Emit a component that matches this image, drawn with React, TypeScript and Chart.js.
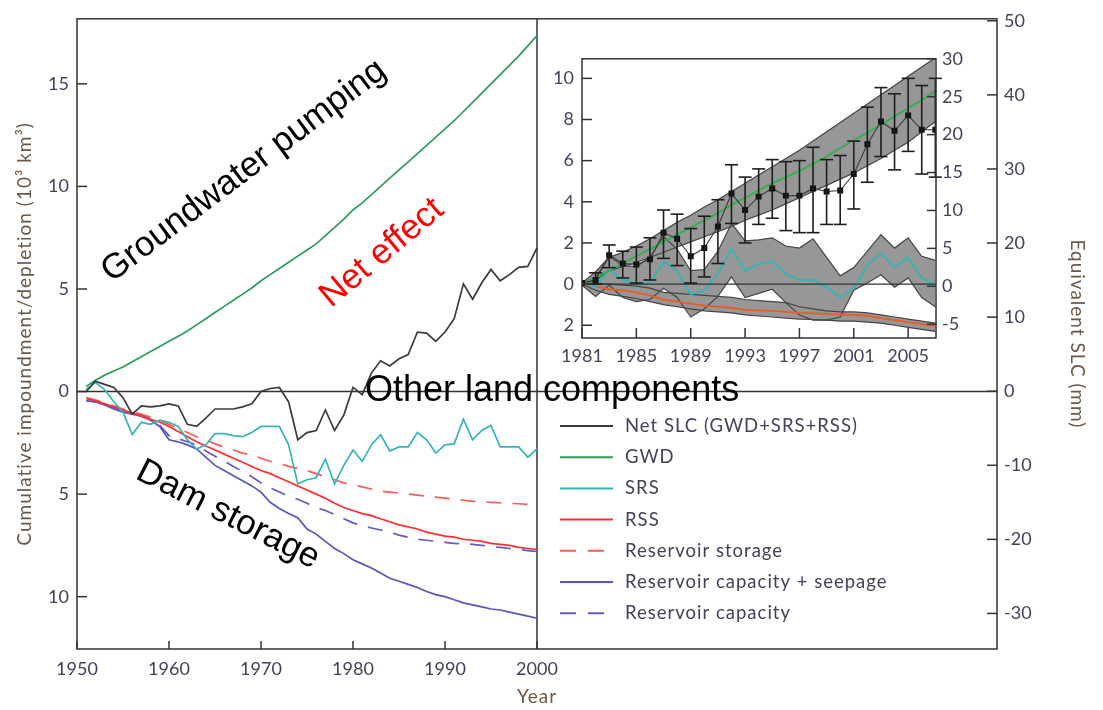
import React, { useEffect, useRef } from "react";
import { Chart, registerables } from "chart.js";

Chart.register(...registerables);

// ---------------- main panel data (10^3 km^3) ----------------
const years = [
  1951, 1952, 1953, 1954, 1955, 1956, 1957, 1958, 1959, 1960,
  1961, 1962, 1963, 1964, 1965, 1966, 1967, 1968, 1969, 1970,
  1971, 1972, 1973, 1974, 1975, 1976, 1977, 1978, 1979, 1980,
  1981, 1982, 1983, 1984, 1985, 1986, 1987, 1988, 1989, 1990,
  1991, 1992, 1993, 1994, 1995, 1996, 1997, 1998, 1999, 2000,
];
const netSLC = [
  0.0, 0.5, 0.35, 0.2, -0.3, -1.1, -0.7, -0.75, -0.7, -0.6,
  -0.7, -1.6, -1.7, -1.3, -0.85, -0.85, -0.85, -0.75, -0.6, 0.0,
  0.15, 0.2, -0.5, -2.35, -2.0, -1.9, -0.9, -1.9, -1.15, 0.2,
  -0.15, 0.9, 1.5, 1.25, 1.6, 1.8, 2.9, 2.85, 2.45, 2.9,
  3.55, 5.25, 4.5, 5.3, 5.95, 5.4, 5.7, 6.05, 6.1, 7.0,
];
const gwd = [
  0.25, 0.55, 0.8, 1.0, 1.2, 1.45, 1.7, 1.95, 2.2, 2.45,
  2.7, 2.95, 3.25, 3.55, 3.85, 4.15, 4.45, 4.75, 5.05, 5.4,
  5.7, 6.0, 6.3, 6.6, 6.9, 7.2, 7.6, 8.0, 8.4, 8.85,
  9.2, 9.6, 10.0, 10.4, 10.8, 11.2, 11.6, 12.0, 12.4, 12.8,
  13.2, 13.65, 14.1, 14.55, 15.0, 15.45, 15.9, 16.35, 16.85, 17.35,
];
const srs = [
  0.1, 0.45, 0.1, -0.5, -1.0, -2.1, -1.5, -1.6, -1.4, -1.5,
  -1.7, -2.35, -2.8, -2.6, -2.05, -2.05, -2.15, -2.2, -2.0, -1.7,
  -1.7, -1.7, -2.6, -4.5, -4.3, -4.2, -3.3, -4.5, -3.6, -2.85,
  -3.4, -2.6, -2.1, -2.9, -2.7, -2.7, -2.0, -2.35, -3.0, -2.6,
  -2.55, -1.35, -2.35, -1.9, -1.65, -2.7, -2.7, -2.7, -3.2, -2.8,
];
const rss = [
  -0.35, -0.45, -0.6, -0.75, -0.9, -1.05, -1.2, -1.35, -1.5, -1.7,
  -1.95, -2.2, -2.45, -2.65, -2.85, -3.05, -3.25, -3.45, -3.65, -3.85,
  -4.0, -4.2, -4.4, -4.6, -4.8, -5.0, -5.2, -5.45, -5.65, -5.8,
  -5.95, -6.05, -6.2, -6.35, -6.5, -6.6, -6.7, -6.85, -6.95, -7.05,
  -7.1, -7.2, -7.25, -7.3, -7.4, -7.45, -7.5, -7.6, -7.65, -7.7,
];
const reservoirStorage = [
  -0.3, -0.4, -0.55, -0.7, -0.85, -1.0, -1.1, -1.25, -1.4, -1.6,
  -1.8, -2.0, -2.2, -2.35, -2.55, -2.7, -2.85, -3.0, -3.1, -3.25,
  -3.4, -3.5, -3.65, -3.75, -3.85, -4.0, -4.15, -4.3, -4.45, -4.55,
  -4.65, -4.75, -4.85, -4.9, -4.95, -5.0, -5.05, -5.1, -5.15, -5.2,
  -5.25, -5.3, -5.35, -5.37, -5.4, -5.42, -5.45, -5.47, -5.5, -5.5,
];
const reservoirCapSeepage = [
  -0.45, -0.5, -0.65, -0.85, -1.0, -1.1, -1.2, -1.4, -1.7, -2.35,
  -2.45, -2.6, -2.8, -3.2, -3.6, -3.85, -4.1, -4.35, -4.6, -4.9,
  -5.4, -5.7, -5.95, -6.15, -6.7, -6.95, -7.3, -7.65, -7.9, -8.2,
  -8.4, -8.6, -8.85, -9.1, -9.25, -9.4, -9.55, -9.75, -9.9, -10.0,
  -10.15, -10.3, -10.4, -10.5, -10.6, -10.65, -10.75, -10.85, -10.95, -11.05,
];
const reservoirCapacity = [
  -0.45, -0.5, -0.65, -0.8, -0.95, -1.05, -1.15, -1.35, -1.65, -2.15,
  -2.3, -2.45, -2.6, -2.9, -3.15, -3.4, -3.65, -3.9, -4.15, -4.45,
  -4.7, -4.9, -5.1, -5.25, -5.45, -5.65, -5.8, -6.0, -6.2, -6.4,
  -6.55, -6.65, -6.75, -6.85, -7.0, -7.1, -7.2, -7.25, -7.3, -7.35,
  -7.4, -7.42, -7.45, -7.5, -7.55, -7.6, -7.65, -7.7, -7.75, -7.8,
];

const mainXTicks = [1950, 1960, 1970, 1980, 1990, 2000];
const mainLeftTicks = [-10, -5, 0, 5, 10, 15];
const mainRightTicks = [-30, -20, -10, 0, 10, 20, 30, 40, 50];

// ---------------- inset data (10^3 km^3) ----------------
const insetYears = [
  1981, 1982, 1983, 1984, 1985, 1986, 1987, 1988, 1989, 1990,
  1991, 1992, 1993, 1994, 1995, 1996, 1997, 1998, 1999, 2000,
  2001, 2002, 2003, 2004, 2005, 2006, 2007,
];
const insetGWD = [
  0.0, 0.3, 0.65, 1.0, 1.35, 1.7, 2.05, 2.4, 2.75, 3.1,
  3.45, 3.85, 4.2, 4.55, 4.9, 5.2, 5.5, 5.85, 6.2, 6.6,
  7.0, 7.35, 7.75, 8.15, 8.55, 8.95, 9.4,
];
const insetGWDUpper = [
  0.05, 0.6, 1.3, 1.55, 1.85, 2.2, 2.6, 3.0, 3.35, 3.75,
  4.1, 4.5, 4.9, 5.3, 5.7, 6.1, 6.5, 6.95, 7.4, 7.85,
  8.3, 8.75, 9.2, 9.65, 10.1, 10.55, 11.0,
];
const insetGWDLower = [
  0.0, 0.2, 0.65, 0.85, 1.05, 1.3, 1.55, 1.8, 2.05, 2.3,
  2.55, 2.8, 3.1, 3.35, 3.6, 3.9, 4.2, 4.5, 4.8, 5.1,
  5.4, 5.75, 6.1, 6.5, 6.9, 7.4, 7.9,
];
const insetObs = [
  0.05, 0.2, 1.4, 1.0, 0.95, 1.2, 2.5, 2.2, 1.35, 1.75,
  2.8, 4.4, 3.6, 4.25, 4.65, 4.3, 4.3, 4.65, 4.5, 4.55,
  5.35, 6.8, 7.9, 7.45, 8.2, 7.5, 7.5,
];
const insetObsHigh = [
  0.05, 0.55, 1.9, 1.6, 1.8, 2.25, 3.6, 3.4, 2.7, 3.3,
  4.1, 5.8, 5.2, 5.6, 6.05, 5.95, 6.0, 6.65, 6.05, 6.25,
  6.95, 8.6, 9.55, 9.25, 10.0, 9.65, 10.0,
];
const insetObsLow = [
  0.05, 0.0, 0.8, 0.3, 0.05, 0.2, 1.25, 0.9, 0.05, 0.35,
  1.0, 2.95, 2.0, 2.9, 3.2, 2.6, 2.5, 2.5, 2.9, 2.9,
  3.65, 4.95, 6.2, 5.55, 6.45, 5.35, 5.2,
];
const insetSRS = [
  0.1, -0.15, 0.7, 0.2, 0.05, 0.05, 1.1, 0.65, -0.5, -0.3,
  0.5, 1.7, 0.65, 1.0, 1.1, 0.5, 0.2, 0.2, -0.15, -0.65,
  -0.2, 0.9, 1.5, 0.8, 1.3, 0.3, -0.05,
];
const insetSRSUpper = [
  0.05, 0.3, 1.35, 0.9, 0.85, 1.3, 2.3, 1.7, 0.65, 0.7,
  1.6, 2.95, 2.1, 2.15, 2.25, 1.85, 1.75, 2.2, 1.3, 0.4,
  0.8, 1.6, 2.4, 1.75, 2.25, 1.35, 1.15,
];
const insetSRSLower = [
  -0.05, -0.6, -0.05, -0.65, -0.85, -0.75, -0.2, -0.65, -1.6, -1.2,
  -0.6, 0.35, -0.65, -0.45, -0.25, -0.9, -1.5, -1.75, -1.75, -1.6,
  -0.3, 0.05, 0.45, -0.15, 0.3, -0.65, -1.1,
];
const insetRSS = [
  0.0, -0.1, -0.25, -0.3, -0.4, -0.55, -0.75, -0.85, -0.95, -1.05,
  -1.1, -1.15, -1.25, -1.28, -1.3, -1.35, -1.4, -1.42, -1.45, -1.5,
  -1.5, -1.55, -1.65, -1.75, -1.85, -1.95, -2.05,
];
const insetRSSUpper = [
  0.0, 0.05, 0.0, -0.05, -0.1, -0.2, -0.4, -0.45, -0.5, -0.55,
  -0.6, -0.65, -0.75, -0.8, -0.85, -0.9, -1.1, -1.2, -1.3, -1.35,
  -1.35, -1.4, -1.5, -1.6, -1.7, -1.8, -1.9,
];
const insetRSSLower = [
  0.0, -0.3, -0.5, -0.6, -0.7, -0.85, -1.0, -1.1, -1.2, -1.3,
  -1.35, -1.4, -1.5, -1.55, -1.6, -1.65, -1.7, -1.72, -1.75, -1.8,
  -1.8, -1.85, -1.9, -2.0, -2.1, -2.2, -2.3,
];

const insetXTicks = [1981, 1985, 1989, 1993, 1997, 2001, 2005];
const insetLeftTicks = [-2, 0, 2, 4, 6, 8, 10];
const insetRightTicks = [-5, 0, 5, 10, 15, 20, 25, 30];

// ---------------- styles ----------------
const FONT = "Lato, 'Open Sans', sans-serif";
const ANNOT_FONT = "'Liberation Sans', Arial, sans-serif";
const TICK_COLOR = "#46405a";
const TITLE_COLOR = "#6a5848";
const FRAME = "#333333";
const BAND_FILL = "#979797";
const BAND_EDGE = "#454545";

const pts = (xs: number[], ys: number[]) => xs.map((x, i) => ({ x, y: ys[i] }));

function seg(ctx: CanvasRenderingContext2D, x1: number, y1: number, x2: number, y2: number) {
  ctx.beginPath();
  ctx.moveTo(x1, y1);
  ctx.lineTo(x2, y2);
  ctx.stroke();
}

function rotText(
  ctx: CanvasRenderingContext2D,
  text: string,
  cx: number,
  cy: number,
  deg: number,
  font: string,
  color: string,
  spacing = "0px"
) {
  ctx.save();
  ctx.translate(cx, cy);
  ctx.rotate((deg * Math.PI) / 180);
  ctx.font = font;
  (ctx as any).letterSpacing = spacing;
  ctx.fillStyle = color;
  ctx.textAlign = "center";
  ctx.textBaseline = "middle";
  ctx.fillText(text, 0, 0);
  ctx.restore();
}

const fixTicks = (list: number[]) => (scale: any) => {
  scale.ticks = list.map((v) => ({ value: v }));
};

const mainPlugin = {
  id: "mainDecor",
  beforeDatasetsDraw(chart: any) {
    const { ctx, chartArea: a, scales } = chart;
    const x = scales.x;
    const yl = scales.yLeft;
    const yr = scales.yRight;
    ctx.save();
    ctx.strokeStyle = FRAME;
    ctx.lineWidth = 1.5;
    ctx.strokeRect(a.left, a.top, a.right - a.left, a.bottom - a.top);
    const xd = x.getPixelForValue(2000);
    seg(ctx, xd, a.top, xd, a.bottom);
    const y0 = yl.getPixelForValue(0);
    seg(ctx, a.left, y0, a.right, y0);
    mainXTicks.forEach((v) => {
      const px = x.getPixelForValue(v);
      seg(ctx, px, a.bottom, px, a.bottom - 8);
    });
    mainLeftTicks.forEach((v) => {
      const py = yl.getPixelForValue(v);
      seg(ctx, a.left, py, a.left + 10, py);
    });
    mainRightTicks.forEach((v) => {
      const py = yr.getPixelForValue(v);
      seg(ctx, a.right, py, a.right - 10, py);
    });
    ctx.restore();
  },
  afterDraw(chart: any) {
    const { ctx, chartArea: a, scales } = chart;
    const x = scales.x;
    ctx.save();
    // axis titles
    const midY = (a.top + a.bottom) / 2;
    rotText(ctx, "Cumulative impoundment/depletion (10\u00B3 km\u00B3)", 25, midY, -90, `19px ${FONT}`, TITLE_COLOR, "1px");
    rotText(ctx, "Equivalent SLC (mm)", 1077, midY, 90, `19px ${FONT}`, TITLE_COLOR, "1px");
    rotText(ctx, "Year", x.getPixelForValue(2000), 697, 0, `19px ${FONT}`, TITLE_COLOR, "1px");

    // annotations
    const af = `35px ${ANNOT_FONT}`;
    rotText(ctx, "Groundwater pumping", 244, 171, -37, af, "#000000");
    rotText(ctx, "Net effect", 382, 253, -40, af, "#ff0000");
    rotText(ctx, "Dam storage", 228, 515, 27, af, "#000000");
    ctx.font = `36px ${ANNOT_FONT}`;
    ctx.fillStyle = "#000000";
    ctx.textAlign = "left";
    ctx.textBaseline = "alphabetic";
    ctx.fillText("Other land components", 365, 401);

    // legend
    const lx = x.getPixelForValue(2000) + 23;
    chart.data.datasets.forEach((ds: any, i: number) => {
      const y = 426 + i * 31.2;
      ctx.strokeStyle = ds.borderColor;
      ctx.lineWidth = 2;
      const dashed = Array.isArray(ds.borderDash) && ds.borderDash.length > 0;
      ctx.setLineDash(dashed ? [16, 12] : []);
      seg(ctx, lx, y, lx + (dashed ? 47 : 53), y);
      ctx.setLineDash([]);
      ctx.font = `18.5px ${FONT}`;
      (ctx as any).letterSpacing = "1px";
      ctx.fillStyle = TICK_COLOR;
      ctx.textAlign = "left";
      ctx.textBaseline = "middle";
      ctx.fillText(ds.label, lx + 65, y);
      (ctx as any).letterSpacing = "0px";
    });
    ctx.restore();
  },
};

const insetPlugin = {
  id: "insetDecor",
  afterDatasetsDraw(chart: any) {
    const { ctx, chartArea: a, scales } = chart;
    const x = scales.x;
    const yl = scales.yLeft;
    const yr = scales.yRight;
    ctx.save();
    // zero line
    ctx.strokeStyle = FRAME;
    ctx.lineWidth = 1.3;
    const y0 = yl.getPixelForValue(0);
    seg(ctx, a.left, y0, a.right, y0);
    // error bars
    ctx.strokeStyle = "#1e1e1e";
    ctx.lineWidth = 1.6;
    insetYears.forEach((yr0, i) => {
      if (insetObsHigh[i] === insetObsLow[i]) return;
      const px = x.getPixelForValue(yr0);
      const ph = yl.getPixelForValue(insetObsHigh[i]);
      const pl = yl.getPixelForValue(insetObsLow[i]);
      seg(ctx, px, ph, px, pl);
      seg(ctx, px - 6.5, ph, px + 6.5, ph);
      seg(ctx, px - 6.5, pl, px + 6.5, pl);
    });
    // frame + ticks
    ctx.strokeStyle = FRAME;
    ctx.lineWidth = 1.5;
    ctx.strokeRect(a.left, a.top, a.right - a.left, a.bottom - a.top);
    insetXTicks.forEach((v) => {
      const px = x.getPixelForValue(v);
      seg(ctx, px, a.bottom, px, a.bottom - 10);
    });
    insetLeftTicks.forEach((v) => {
      const py = yl.getPixelForValue(v);
      seg(ctx, a.left, py, a.left + 10, py);
    });
    insetRightTicks.forEach((v) => {
      const py = yr.getPixelForValue(v);
      seg(ctx, a.right, py, a.right - 9, py);
    });
    ctx.restore();
  },
};

const tickFont = { family: FONT, size: 18 };

export default function App() {
  const mainRef = useRef<HTMLCanvasElement>(null);
  const insetRef = useRef<HTMLCanvasElement>(null);

  useEffect(() => {
    const line = (label: string, data: number[], color: string, dash: number[] | undefined, order: number) => ({
      label,
      data: pts(years, data),
      yAxisID: "yLeft",
      xAxisID: "x",
      borderColor: color,
      backgroundColor: color,
      borderWidth: 1.7,
      borderDash: dash,
      pointRadius: 0,
      fill: false,
      tension: 0,
      order,
    });

    const main = new Chart(mainRef.current as HTMLCanvasElement, {
      type: "line",
      data: {
        datasets: [
          line("Net SLC (GWD+SRS+RSS)", netSLC, "#3a3a3a", undefined, 0),
          line("GWD", gwd, "#2e9c5c", undefined, 1),
          line("SRS", srs, "#35b5b8", undefined, 2),
          line("RSS", rss, "#ff2e2e", undefined, 3),
          line("Reservoir storage", reservoirStorage, "#ff5a5a", [15, 11], 4),
          line("Reservoir capacity + seepage", reservoirCapSeepage, "#5656bc", undefined, 5),
          line("Reservoir capacity", reservoirCapacity, "#5c5cc4", [15, 11], 6),
        ] as any,
      },
      options: {
        animation: false,
        responsive: false,
        maintainAspectRatio: false,
        devicePixelRatio: 1,
        layout: { padding: { top: 11, left: 0, right: 0, bottom: 0 } },
        plugins: { legend: { display: false }, tooltip: { enabled: false } },
        scales: {
          x: {
            type: "linear",
            position: "bottom",
            min: 1950,
            max: 2050,
            afterBuildTicks: fixTicks(mainXTicks),
            afterFit: (s: any) => {
              s.height = 61;
            },
            grid: { display: false, drawTicks: false },
            border: { display: false },
            ticks: {
              font: tickFont,
              color: TICK_COLOR,
              padding: 9,
              maxRotation: 0,
              autoSkip: false,
              callback: (v: any) => String(v),
            },
          },
          yLeft: {
            type: "linear",
            position: "left",
            min: -12.55,
            max: 18.17,
            afterBuildTicks: fixTicks(mainLeftTicks),
            afterFit: (s: any) => {
              s.width = 77;
            },
            grid: { display: false, drawTicks: false },
            border: { display: false },
            ticks: {
              font: tickFont,
              color: TICK_COLOR,
              padding: 8,
              autoSkip: false,
              callback: (v: any) => String(Math.abs(Number(v))),
            },
          },
          yRight: {
            type: "linear",
            position: "right",
            min: -34.8,
            max: 50.27,
            afterBuildTicks: fixTicks(mainRightTicks),
            afterFit: (s: any) => {
              s.width = 106;
            },
            grid: { display: false, drawTicks: false },
            border: { display: false },
            ticks: {
              font: tickFont,
              color: TICK_COLOR,
              padding: 7,
              autoSkip: false,
              callback: (v: any) => String(v),
            },
          },
        },
      } as any,
      plugins: [mainPlugin],
    });

    const band = (label: string, data: number[], fill: any, order: number) => ({
      label,
      data: pts(insetYears, data),
      yAxisID: "yLeft",
      xAxisID: "x",
      borderColor: BAND_EDGE,
      backgroundColor: BAND_FILL,
      borderWidth: 1.2,
      pointRadius: 0,
      fill,
      tension: 0,
      order,
    });
    const iline = (label: string, data: number[], color: string, order: number) => ({
      label,
      data: pts(insetYears, data),
      yAxisID: "yLeft",
      xAxisID: "x",
      borderColor: color,
      backgroundColor: color,
      borderWidth: 1.8,
      pointRadius: 0,
      fill: false,
      tension: 0,
      order,
    });

    const inset = new Chart(insetRef.current as HTMLCanvasElement, {
      type: "line",
      data: {
        datasets: [
          {
            label: "Observed",
            data: pts(insetYears, insetObs),
            yAxisID: "yLeft",
            xAxisID: "x",
            borderColor: "#3a3a3a",
            backgroundColor: "#111111",
            borderWidth: 1.1,
            pointStyle: "rect",
            pointRadius: 4.2,
            pointBorderWidth: 0,
            pointBackgroundColor: "#111111",
            fill: false,
            tension: 0,
            order: 0,
          },
          iline("GWD", insetGWD, "#2fb04e", 1),
          iline("SRS", insetSRS, "#2fb7b7", 2),
          iline("RSS", insetRSS, "#ef5a22", 3),
          band("GWD upper", insetGWDUpper, "+1", 4),
          band("GWD lower", insetGWDLower, false, 5),
          band("SRS upper", insetSRSUpper, "+1", 6),
          band("SRS lower", insetSRSLower, false, 7),
          band("RSS upper", insetRSSUpper, "+1", 8),
          band("RSS lower", insetRSSLower, false, 9),
        ] as any,
      },
      options: {
        animation: false,
        responsive: false,
        maintainAspectRatio: false,
        devicePixelRatio: 1,
        layout: { padding: { top: 13, left: 0, right: 0, bottom: 0 } },
        plugins: {
          legend: { display: false },
          tooltip: { enabled: false },
          filler: { drawTime: "beforeDatasetsDraw" },
        },
        scales: {
          x: {
            type: "linear",
            position: "bottom",
            min: 1981,
            max: 2007.05,
            afterBuildTicks: fixTicks(insetXTicks),
            afterFit: (s: any) => {
              s.height = 32;
            },
            grid: { display: false, drawTicks: false },
            border: { display: false },
            ticks: {
              font: tickFont,
              color: TICK_COLOR,
              padding: 7,
              maxRotation: 0,
              autoSkip: false,
              callback: (v: any) => String(v),
            },
          },
          yLeft: {
            type: "linear",
            position: "left",
            min: -2.62,
            max: 10.95,
            afterBuildTicks: fixTicks(insetLeftTicks),
            afterFit: (s: any) => {
              s.width = 52;
            },
            grid: { display: false, drawTicks: false },
            border: { display: false },
            ticks: {
              font: tickFont,
              color: TICK_COLOR,
              padding: 8,
              autoSkip: false,
              callback: (v: any) => String(Math.abs(Number(v))),
            },
          },
          yRight: {
            type: "linear",
            position: "right",
            min: -6.82,
            max: 30.0,
            afterBuildTicks: fixTicks(insetRightTicks),
            afterFit: (s: any) => {
              s.width = 54;
            },
            grid: { display: false, drawTicks: false },
            border: { display: false },
            ticks: {
              font: tickFont,
              color: TICK_COLOR,
              padding: 6,
              autoSkip: false,
              callback: (v: any) => String(v),
            },
          },
        },
      } as any,
      plugins: [insetPlugin],
    });

    return () => {
      main.destroy();
      inset.destroy();
    };
  }, []);

  return (
    <div style={{ position: "fixed", left: 0, top: 0, width: 1103, height: 710, background: "#ffffff" }}>
      <canvas
        ref={mainRef}
        width={1103}
        height={710}
        style={{ position: "absolute", left: 0, top: 0, width: 1103, height: 710 }}
      />
      <canvas
        ref={insetRef}
        width={460}
        height={330}
        style={{ position: "absolute", left: 530, top: 40, width: 460, height: 330 }}
      />
    </div>
  );
}
